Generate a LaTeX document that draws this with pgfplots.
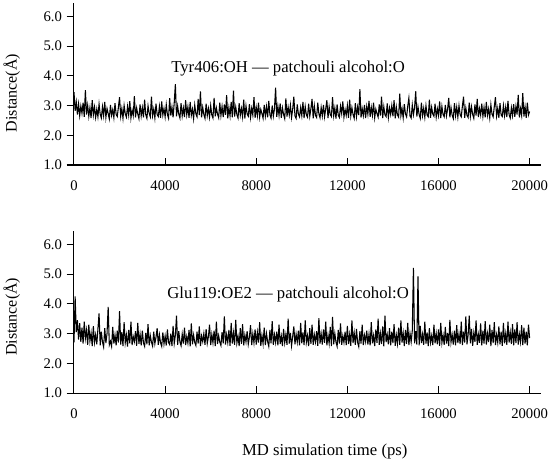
\documentclass[border=0pt]{standalone}
\usepackage{fontspec}
\setmainfont{Liberation Serif}
\usepackage{pgfplots}
\usepackage{pgfplotstable}
\pgfplotsset{compat=1.18}

\pgfplotstableread[row sep=\\]{
y\\
3.45\\2.82\\3.12\\2.70\\3.05\\2.66\\2.98\\2.74\\3.10\\2.62\\3.52\\2.70\\3.01\\2.64\\2.93\\2.58\\3.18\\2.68\\2.95\\2.60\\
2.88\\2.62\\3.05\\2.71\\2.58\\2.96\\2.66\\3.12\\2.60\\2.90\\2.73\\2.55\\3.02\\2.67\\2.86\\2.59\\3.08\\2.70\\2.63\\2.95\\
3.28\\2.64\\2.90\\2.57\\3.00\\2.72\\2.61\\2.97\\2.68\\3.15\\2.58\\2.85\\2.66\\3.32\\2.60\\2.92\\2.71\\2.56\\3.04\\2.65\\
2.93\\2.60\\3.20\\2.69\\2.57\\2.99\\2.74\\2.62\\3.30\\2.66\\2.88\\2.58\\3.06\\2.70\\2.63\\2.97\\2.59\\3.14\\2.68\\2.90\\
2.62\\3.03\\2.70\\2.57\\3.25\\2.66\\2.95\\2.60\\3.10\\3.72\\2.64\\2.98\\2.71\\2.58\\3.08\\2.65\\2.92\\2.61\\3.18\\2.69\\
2.96\\2.59\\3.12\\2.67\\2.88\\2.56\\3.02\\2.72\\2.62\\3.22\\2.68\\3.48\\2.60\\2.94\\2.70\\2.57\\3.06\\2.66\\2.90\\2.61\\
3.00\\2.68\\2.58\\3.26\\2.64\\2.92\\2.71\\2.59\\3.10\\2.66\\2.97\\2.61\\3.04\\2.69\\3.35\\2.57\\2.93\\2.65\\3.12\\2.60\\
3.50\\2.63\\2.95\\2.70\\2.58\\3.08\\2.67\\2.90\\2.62\\3.20\\2.56\\2.99\\2.72\\2.64\\3.05\\2.60\\2.91\\2.68\\3.28\\2.59\\
2.94\\2.66\\3.10\\2.61\\2.87\\2.73\\2.57\\3.02\\2.65\\2.96\\2.60\\3.16\\2.69\\2.58\\3.00\\2.64\\2.89\\3.60\\2.62\\2.98\\
2.67\\3.07\\2.59\\2.92\\2.70\\2.56\\3.24\\2.63\\2.95\\2.68\\3.01\\2.60\\2.88\\3.30\\2.65\\2.57\\3.04\\2.71\\2.62\\2.93\\
2.66\\3.12\\2.58\\2.97\\2.69\\2.61\\3.06\\2.64\\2.90\\3.22\\2.57\\2.99\\2.67\\2.60\\3.10\\2.72\\2.59\\2.94\\2.65\\3.02\\
2.62\\2.89\\3.18\\2.58\\2.96\\2.70\\2.63\\3.28\\2.66\\2.92\\2.56\\3.04\\2.68\\2.60\\2.98\\2.73\\3.14\\2.61\\2.87\\2.67\\
3.00\\2.59\\3.20\\2.65\\2.93\\2.70\\2.57\\3.08\\2.63\\2.95\\2.68\\3.55\\2.60\\2.90\\2.66\\3.02\\2.58\\2.97\\2.71\\3.16\\
2.62\\2.94\\2.67\\3.10\\2.59\\2.88\\2.73\\2.61\\3.04\\2.66\\3.30\\2.58\\2.96\\2.69\\2.63\\3.07\\2.60\\2.92\\2.70\\3.00\\
2.64\\3.18\\2.57\\2.95\\2.68\\2.61\\3.40\\2.66\\2.90\\2.59\\3.05\\2.72\\2.62\\2.98\\3.25\\2.65\\2.58\\3.02\\2.69\\2.93\\
3.48\\2.63\\2.96\\2.70\\2.57\\3.10\\2.66\\2.91\\2.60\\3.00\\2.68\\2.62\\3.20\\2.59\\2.94\\2.71\\2.64\\3.06\\2.61\\2.89\\
2.67\\3.14\\2.58\\2.97\\2.70\\2.62\\3.02\\2.65\\2.88\\3.26\\2.60\\2.93\\2.68\\2.56\\3.08\\2.66\\2.95\\2.61\\3.00\\2.69\\
2.62\\2.99\\3.30\\2.59\\2.92\\2.67\\2.60\\3.10\\2.64\\2.96\\2.70\\2.57\\3.04\\2.66\\3.22\\2.61\\2.90\\2.68\\3.06\\2.63\\
2.94\\2.60\\3.12\\2.67\\2.89\\2.58\\3.03\\2.71\\2.62\\2.97\\3.28\\2.65\\2.91\\2.59\\3.08\\2.68\\2.63\\3.00\\2.66\\2.95\\
2.61\\3.16\\2.69\\2.58\\2.93\\2.66\\3.05\\2.62\\2.98\\2.70\\3.36\\2.60\\2.90\\2.67\\3.42\\2.63\\2.96\\2.59\\3.10\\2.68\\
2.80\\
}\tyr

\pgfplotstableread[row sep=\\]{
y\\
2.70\\4.25\\3.05\\3.45\\2.80\\3.35\\2.72\\3.20\\2.66\\3.40\\2.84\\3.12\\2.62\\3.30\\2.75\\3.02\\2.58\\3.25\\2.70\\2.96\\
2.64\\3.15\\3.68\\2.60\\3.06\\2.72\\2.55\\3.18\\2.68\\3.00\\3.90\\2.62\\2.74\\2.57\\3.22\\2.66\\2.95\\2.60\\3.10\\2.70\\
3.75\\2.63\\3.05\\2.58\\3.38\\2.69\\2.95\\2.56\\3.12\\2.67\\3.40\\2.61\\2.90\\2.73\\3.08\\2.59\\3.36\\2.65\\2.98\\2.60\\
3.10\\2.68\\2.57\\3.02\\2.64\\3.32\\2.60\\2.93\\2.71\\2.58\\3.06\\2.66\\2.88\\3.18\\2.62\\2.96\\2.69\\2.57\\3.04\\2.65\\
2.92\\2.60\\3.14\\2.70\\2.63\\3.00\\2.58\\3.26\\2.67\\2.94\\3.60\\2.62\\3.08\\2.72\\2.59\\2.98\\2.66\\3.20\\2.61\\2.90\\
2.68\\3.12\\2.57\\3.34\\2.64\\2.95\\2.70\\2.60\\3.06\\2.66\\3.24\\2.58\\2.92\\2.73\\3.00\\2.62\\3.15\\2.67\\2.89\\3.30\\
2.61\\2.97\\2.69\\3.10\\2.58\\3.40\\2.65\\2.93\\2.71\\2.60\\3.05\\2.67\\3.58\\2.63\\2.96\\2.70\\3.12\\2.59\\3.36\\2.66\\
3.02\\2.62\\3.46\\2.68\\2.91\\2.58\\3.18\\2.65\\3.32\\2.60\\2.95\\2.72\\3.08\\2.64\\2.88\\3.28\\2.61\\2.99\\2.69\\3.14\\
2.63\\3.04\\2.70\\3.38\\2.59\\2.94\\2.66\\3.20\\2.61\\3.00\\2.73\\2.57\\3.12\\2.67\\3.42\\2.62\\2.96\\2.70\\3.06\\2.60\\
3.30\\2.65\\2.92\\2.58\\3.16\\2.69\\2.97\\2.62\\3.50\\2.66\\3.02\\2.59\\2.90\\3.24\\2.64\\2.98\\2.71\\3.10\\2.60\\3.36\\
2.67\\3.04\\2.61\\3.44\\2.70\\2.93\\2.58\\3.18\\2.65\\3.30\\2.62\\2.96\\2.72\\3.08\\2.59\\3.52\\2.66\\2.99\\2.63\\3.14\\
2.69\\3.40\\2.60\\2.95\\2.67\\3.22\\2.58\\3.56\\2.64\\3.00\\2.71\\2.57\\3.12\\2.66\\3.34\\2.62\\2.92\\2.70\\3.06\\2.61\\
3.26\\2.65\\2.97\\2.59\\3.44\\2.68\\3.02\\2.62\\3.16\\2.70\\2.56\\3.08\\2.66\\3.30\\2.61\\2.94\\2.73\\3.10\\2.63\\2.98\\
2.60\\3.38\\2.67\\2.93\\2.58\\3.14\\2.69\\3.50\\2.62\\3.00\\2.65\\3.24\\2.57\\3.60\\2.71\\2.96\\2.64\\3.18\\2.60\\3.06\\
2.68\\3.32\\2.59\\2.95\\2.66\\3.20\\2.62\\3.44\\2.70\\3.02\\2.58\\3.12\\2.65\\3.36\\2.61\\3.00\\2.72\\3.10\\5.21\\2.67\\
3.08\\2.63\\4.92\\2.60\\3.26\\2.68\\2.97\\2.62\\3.40\\2.66\\3.04\\2.58\\3.18\\2.70\\2.93\\2.61\\3.30\\2.67\\3.00\\2.64\\
3.14\\2.59\\3.36\\2.69\\2.95\\2.62\\3.22\\2.66\\3.02\\2.58\\3.46\\2.71\\2.96\\2.63\\3.10\\2.60\\3.28\\2.68\\2.99\\2.65\\
3.40\\2.61\\3.06\\2.70\\3.58\\2.64\\2.94\\3.60\\2.67\\3.16\\2.59\\3.02\\2.72\\3.44\\2.62\\2.97\\2.69\\3.34\\2.60\\3.10\\
2.66\\3.42\\2.63\\3.00\\2.71\\3.30\\2.58\\3.12\\2.68\\3.38\\2.61\\2.96\\2.70\\3.24\\2.64\\3.06\\2.59\\3.36\\2.67\\3.00\\
2.62\\3.40\\2.70\\3.04\\2.65\\3.32\\2.60\\3.14\\2.68\\3.38\\2.63\\2.98\\2.72\\3.28\\2.61\\3.20\\2.66\\3.06\\2.60\\3.30\\
2.85\\
}\glu

\pgfplotsset{
  mdstyle/.style={
    scale only axis,
    width=350.25pt, height=121.5pt,
    xmin=0, xmax=20500, ymin=1, ymax=6.45,
    axis x line*=bottom, axis y line*=left,
    axis line style={line width=0.75pt},
    xtick={0,4000,8000,12000,16000,20000},
    ytick={1,2,3,4,5,6},
    scaled x ticks=false,
    tick align=inside,
    major tick length=5.5pt,
    tick style={line width=0.75pt, black},
    ytick style={xshift=-5.5pt},
    /pgf/number format/assume math mode=true,
    xticklabel style={font=\fontsize{11}{13}\selectfont, /pgf/number format/1000 sep={}, yshift=-8.5pt},
    yticklabel style={font=\fontsize{11}{13}\selectfont, /pgf/number format/fixed, /pgf/number format/fixed zerofill, /pgf/number format/precision=1, xshift=-5.5pt},
    ylabel={Distance(Å)},
    anchor=south west,
  }
}

\begin{document}
\begin{tikzpicture}
\useasboundingbox (-55.5pt,-224.25pt) rectangle (357pt,123.75pt);
\begin{axis}[mdstyle, at={(0pt,0pt)},
  every axis y label/.style={at={(axis description cs:-0.133,0.444)}, rotate=90, anchor=center, font=\fontsize{12}{14}\selectfont}]
\addplot[black, line width=0.8pt, mark=none] table[x expr=\coordindex*50, y=y]{\tyr};
\node[font=\fontsize{12.5}{14}\selectfont] at (axis cs:9400,4.26) {Tyr406:OH — patchouli alcohol:O};
\end{axis}
\begin{axis}[mdstyle, at={(0pt,-171pt)},
  every axis y label/.style={at={(axis description cs:-0.133,0.47)}, rotate=90, anchor=center, font=\fontsize{12}{14}\selectfont},
  xlabel={MD simulation time (ps)},
  every axis x label/.style={at={(axis description cs:0.537,0)}, anchor=center, yshift=-43.5pt, font=\fontsize{12.5}{14}\selectfont}]
\addplot[black, line width=0.8pt, mark=none] table[x expr=\coordindex*50, y=y]{\glu};
\node[font=\fontsize{12.5}{14}\selectfont] at (axis cs:9400,4.30) {Glu119:OE2 — patchouli alcohol:O};
\end{axis}
\end{tikzpicture}
\end{document}
